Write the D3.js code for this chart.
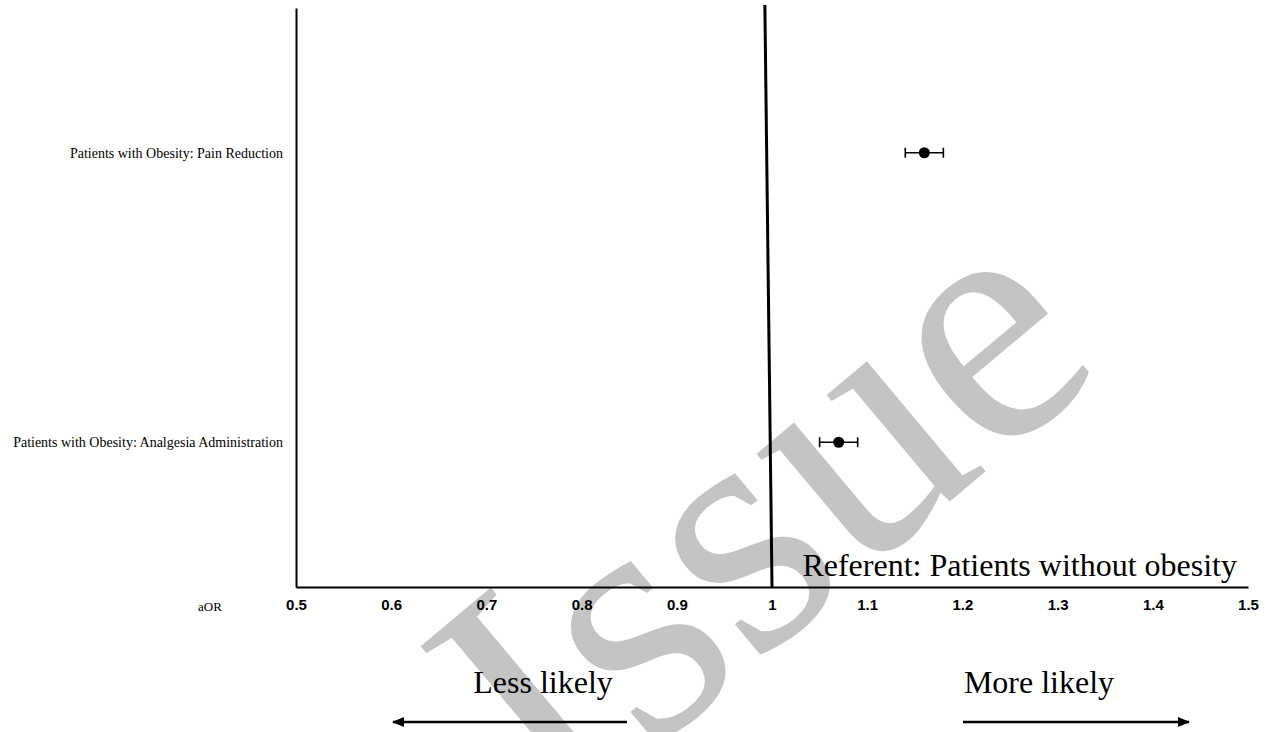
<!DOCTYPE html>
<html>
<head>
<meta charset="utf-8">
<script src="https://cdn.jsdelivr.net/npm/d3@7"></script>
<style>
  body { margin: 0; background: #fff; }
  svg { display: block; }
</style>
</head>
<body>
<div id="forest"></div>
<script>
// Chart data
const outcomes = ["Patients with Obesity: Pain Reduction", "Patients with Obesity: Analgesia Administration"];
const aor = [1.16, 1.07];
const ciLow = [1.14, 1.05];
const ciHigh = [1.18, 1.09];
const xTicks = [0.5, 0.6, 0.7, 0.8, 0.9, 1, 1.1, 1.2, 1.3, 1.4, 1.5];
const referentValue = 1;

const W = 1267, H = 732;
const margin = { top: 8, right: 19, bottom: 145, left: 296 },
    width = W - margin.left - margin.right,
    height = H - margin.top - margin.bottom;

const serif = "'Liberation Serif', 'Times New Roman', serif";

const svg = d3.select("#forest")
    .append("svg")
    .attr("width", W)
    .attr("height", H);

// Watermark behind everything
const wm = svg.append("g").attr("fill", "#c4c4c4")
    .style("font-family", serif);
wm.append("text")
    .attr("transform", "translate(755,505) rotate(-40)")
    .attr("text-anchor", "middle")
    .attr("dy", "0.35em")
    .style("font-size", "350px")
    .text("Issue");

const g = svg.append("g")
    .attr("transform", `translate(${margin.left},${margin.top})`);

const x = d3.scaleLinear()
    .domain([0.5, 1.5])
    .range([0, width]);

const y = d3.scalePoint()
    .domain(outcomes)
    .range([0, height])
    .padding(0.5);

// x axis
const xAxis = g.append("g")
    .attr("transform", `translate(0,${height})`)
    .call(d3.axisBottom(x).tickValues(xTicks).tickSize(0).tickPadding(12).tickFormat(d => d));
xAxis.select(".domain").attr("stroke", "#000").attr("stroke-width", 2);
xAxis.selectAll("text")
    .style("font-family", "'Liberation Sans', Arial, sans-serif")
    .style("font-weight", "bold")
    .style("font-size", "15px")
    .attr("fill", "#000");

// y axis
const yAxis = g.append("g")
    .call(d3.axisLeft(y).tickSize(0).tickPadding(13));
yAxis.select(".domain").attr("stroke", "#000").attr("stroke-width", 2);
yAxis.selectAll("text")
    .style("font-family", serif)
    .style("font-size", "14px")
    .attr("fill", "#000");

// "aOR" label
g.append("text")
    .attr("x", -86)
    .attr("y", height + 24)
    .attr("text-anchor", "middle")
    .style("font-family", serif)
    .style("font-size", "13px")
    .text("aOR");

// referent line (slightly leaning, as in the original)
g.append("line")
    .attr("x1", x(referentValue - 0.0075))
    .attr("y1", -3)
    .attr("x2", x(referentValue))
    .attr("y2", height)
    .attr("stroke", "#000")
    .attr("stroke-width", 3);

// confidence intervals
const rows = outcomes.map((o, i) => ({ o, est: aor[i], lo: ciLow[i], hi: ciHigh[i] }));
const ci = g.selectAll(".ci").data(rows).enter().append("g").attr("class", "ci");
ci.append("line")
    .attr("x1", d => x(d.lo)).attr("x2", d => x(d.hi))
    .attr("y1", d => y(d.o)).attr("y2", d => y(d.o))
    .attr("stroke", "#000").attr("stroke-width", 1.6);
["lo", "hi"].forEach(k => {
    ci.append("line")
        .attr("x1", d => x(d[k])).attr("x2", d => x(d[k]))
        .attr("y1", d => y(d.o) - 5).attr("y2", d => y(d.o) + 5)
        .attr("stroke", "#000").attr("stroke-width", 1.6);
});
ci.append("circle")
    .attr("cx", d => x(d.est))
    .attr("cy", d => y(d.o))
    .attr("r", 5.5)
    .attr("fill", "#000");

// Referent text
g.append("text")
    .attr("x", width - 11)
    .attr("y", height - 11)
    .attr("text-anchor", "end")
    .style("font-family", serif)
    .style("font-size", "32px")
    .text("Referent: Patients without obesity");

// direction labels and arrows
svg.append("defs").append("marker")
    .attr("id", "arrow")
    .attr("viewBox", "0 0 10 10")
    .attr("refX", 9).attr("refY", 5)
    .attr("markerWidth", 5).attr("markerHeight", 5)
    .attr("markerUnits", "strokeWidth")
    .attr("orient", "auto")
    .append("path").attr("d", "M0,1 L10,5 L0,9 Z").attr("fill", "#000");

g.append("text")
    .attr("x", 543 - margin.left).attr("y", 693 - margin.top)
    .attr("text-anchor", "middle")
    .style("font-family", serif).style("font-size", "32px")
    .text("Less likely");
g.append("text")
    .attr("x", 1039 - margin.left).attr("y", 693 - margin.top)
    .attr("text-anchor", "middle")
    .style("font-family", serif).style("font-size", "32px")
    .text("More likely");

g.append("line")
    .attr("x1", 627 - margin.left).attr("x2", 393 - margin.left)
    .attr("y1", 722 - margin.top).attr("y2", 722 - margin.top)
    .attr("stroke", "#000").attr("stroke-width", 2.5)
    .attr("marker-end", "url(#arrow)");
g.append("line")
    .attr("x1", 963 - margin.left).attr("x2", 1189 - margin.left)
    .attr("y1", 722 - margin.top).attr("y2", 722 - margin.top)
    .attr("stroke", "#000").attr("stroke-width", 2.5)
    .attr("marker-end", "url(#arrow)");
</script>
</body>
</html>
